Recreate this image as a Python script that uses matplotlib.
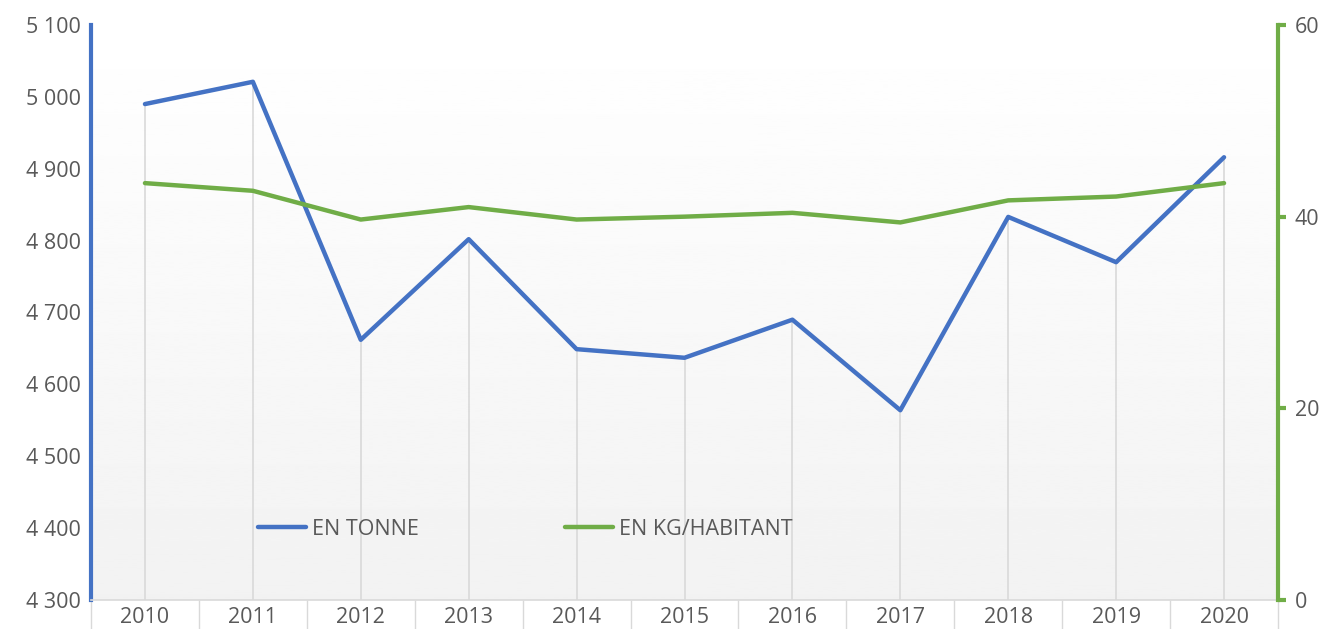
import numpy as np
import matplotlib.pyplot as plt
from matplotlib.ticker import FuncFormatter

plt.rcParams['font.family'] = ['Open Sans', 'DejaVu Sans']

years = ['2010', '2011', '2012', '2013', '2014', '2015', '2016', '2017', '2018', '2019', '2020']
en_tonne = [4990, 5021, 4662, 4802, 4649, 4637, 4690, 4564, 4833, 4770, 4916]
en_kg_hab = [43.5, 42.7, 39.7, 41.0, 39.7, 40.0, 40.4, 39.4, 41.7, 42.1, 43.5]

blue = '#4472C4'
green = '#70AD47'
grey_txt = '#595959'
grey_line = '#d9d9d9'
fs = 15.5

fig = plt.figure(figsize=(13.26, 6.29), dpi=100)
ax = fig.add_axes([91/1326, 1 - 600/629, (1278 - 91)/1326, 575/629])
x = np.arange(len(years))

# degrade de fond (blanc en haut, gris clair en bas)
grad = np.linspace(1.0, 0.949, 256).reshape(-1, 1)
ax.imshow(grad, cmap='gray', vmin=0, vmax=1, aspect='auto',
          extent=[0, 1, 0, 1], transform=ax.transAxes, zorder=0)

ax.set_xlim(-0.5, len(years) - 0.5)
ax.set_ylim(4300, 5100)
ax.vlines(x, 4300, en_tonne, color=grey_line, lw=1.2, zorder=1)
l1, = ax.plot(x, en_tonne, color=blue, lw=3.2, solid_capstyle='round', label='EN TONNE', zorder=3)

ax.set_yticks(np.arange(4300, 5101, 100))
ax.yaxis.set_major_formatter(FuncFormatter(lambda v, p: '{:,.0f}'.format(v).replace(',', ' ')))
ax.tick_params(axis='y', length=0, pad=7, labelsize=fs, labelcolor=grey_txt)

ax.set_xticks(x)
ax.set_xticklabels(years)
ax.set_xticks(np.arange(-0.5, len(years)), minor=True)
ax.tick_params(axis='x', which='major', length=0, pad=5, labelsize=fs, labelcolor=grey_txt)
ax.tick_params(axis='x', which='minor', length=21, width=1, color=grey_line)

ax.spines['top'].set_visible(False)
ax.spines['right'].set_visible(False)
ax.spines['left'].set_color(blue)
ax.spines['left'].set_linewidth(3)
ax.spines['bottom'].set_color(grey_line)
ax.spines['bottom'].set_linewidth(1.2)

ax2 = ax.twinx()
ax2.set_ylim(0, 60)
ax2.set_yticks([0, 20, 40, 60])
l2, = ax2.plot(x, en_kg_hab, color=green, lw=3.2, solid_capstyle='round', label='EN KG/HABITANT', zorder=3)
ax2.tick_params(axis='y', length=6, width=3, color=green, pad=6, labelsize=fs, labelcolor=grey_txt)
for s in ['top', 'left', 'bottom']:
    ax2.spines[s].set_visible(False)
ax2.spines['right'].set_color(green)
ax2.spines['right'].set_linewidth(3)

ax2.legend(handles=[l1, l2], loc='center left', bbox_to_anchor=(0.141, 0.123),
           ncol=2, frameon=False, fontsize=fs, labelcolor=grey_txt,
           handlelength=2.2, handletextpad=0.3, columnspacing=6.8,
           borderpad=0, borderaxespad=0)

plt.savefig('out.png', dpi=100)
